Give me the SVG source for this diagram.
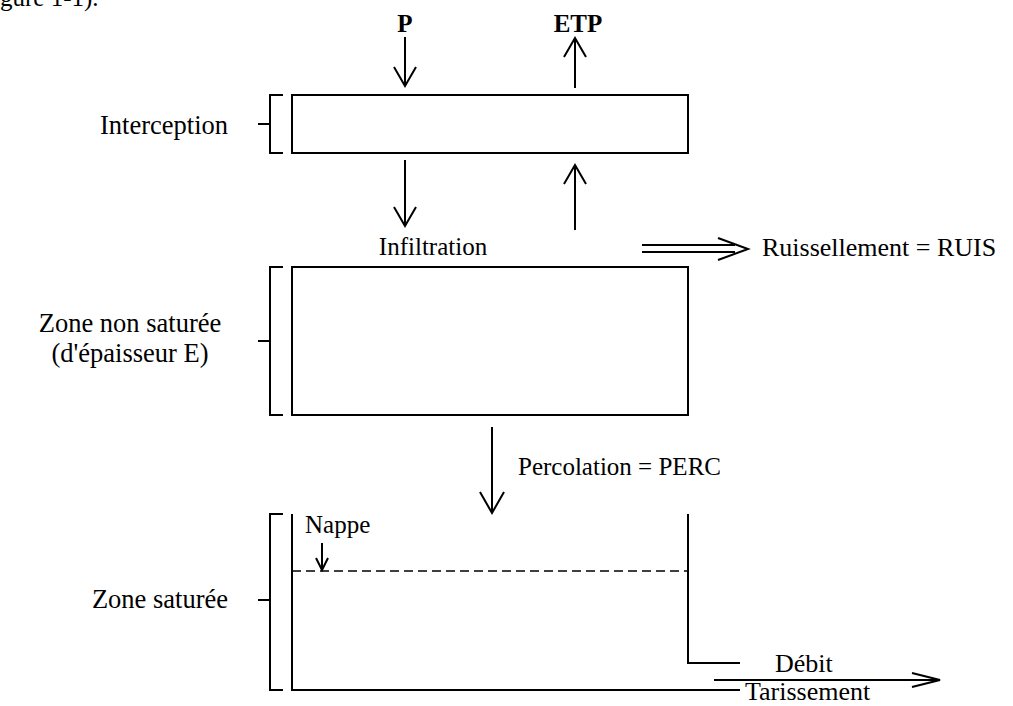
<svg xmlns="http://www.w3.org/2000/svg" width="1013" height="706" viewBox="0 0 1013 706">
<style>
.ln{fill:none;stroke:#000;stroke-width:2}
.t{font-family:"Liberation Serif","Times New Roman",serif;font-size:25px;fill:#000}
.l{font-size:26.5px}
.b{font-weight:bold}
</style>
<rect width="1013" height="706" fill="#fff"/>
<text class="t" x="0" y="6">gure 1-1).</text>
<g id="interception">
<rect class="ln" x="292" y="95" width="396" height="58"/>
<path class="ln" d="M283,95 H270 V153 H283 M258,124 H270"/>
<text class="t l" x="228" y="134" text-anchor="end">Interception</text>
</g>
<g id="zns">
<rect class="ln" x="292" y="267" width="396" height="148"/>
<path class="ln" d="M283,267 H270 V415 H283 M258,341 H270"/>
<text class="t l" x="130" y="332" text-anchor="middle">Zone non saturée</text>
<text class="t l" x="130" y="362" text-anchor="middle">(d'épaisseur E)</text>
</g>
<g id="zs">
<path class="ln" d="M292,514 V690 H740 M688,514 V663 H740"/>
<path class="ln" d="M283,514 H270 V690 H283 M258,600 H270"/>
<line x1="292" y1="571" x2="688" y2="571" stroke="#000" stroke-width="1.5" stroke-dasharray="9,5"/>
<text class="t l" x="228" y="608" text-anchor="end">Zone saturée</text>
<text class="t" x="305" y="533">Nappe</text>
</g>
<g id="labels">
<text class="t b" x="405" y="32" text-anchor="middle">P</text>
<text class="t b" x="578" y="32" text-anchor="middle">ETP</text>
<text class="t" x="433" y="255" text-anchor="middle">Infiltration</text>
<text class="t" x="762" y="256" style="font-size:26px">Ruissellement = RUIS</text>
<text class="t" x="518" y="475">Percolation = PERC</text>
<text class="t" x="775" y="672" style="font-size:26px">Débit</text>
<text class="t" x="745" y="700" style="font-size:26px">Tarissement</text>
</g>
<g id="connectors">
<path class="ln" d="M405,37 V86 M394,67 L405,86 L416,67"/>
<path class="ln" d="M575,88 V38 M564,57 L575,38 L586,57"/>
<path class="ln" d="M405,160 V226 M394,207 L405,226 L416,207"/>
<path class="ln" d="M575,230 V165 M564,184 L575,165 L586,184"/>
<path class="ln" d="M642,245 H735 M642,252 H735 M718,238 L748,249 L718,260"/>
<path class="ln" d="M492,427 V513 M480,492 L492,513 L504,492"/>
<path class="ln" d="M322,543 V570 M316,558 L322,570 L328,558"/>
<path class="ln" d="M714,680 H938 M912,673 L940,680 L912,687"/>
</g>
</svg>
